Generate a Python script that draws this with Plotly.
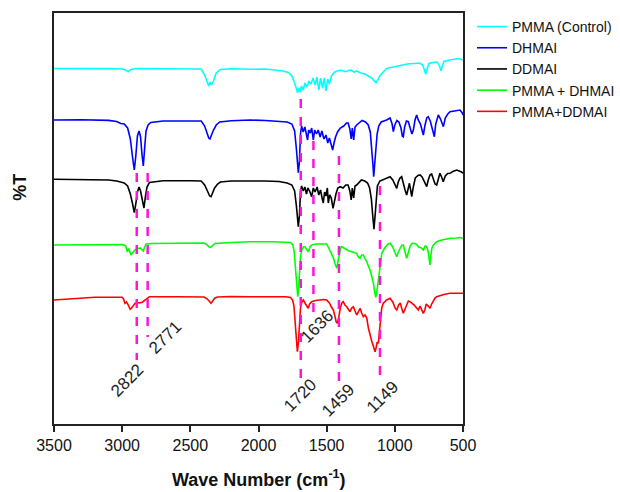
import plotly.graph_objects as go

# ---------------- data ----------------
series_names = ["PMMA (Control)", "DHMAI", "DDMAI", "PMMA + DHMAI", "PMMA+DDMAI"]
series_colors = ["#00FFFF", "#0000FF", "#000000", "#00FF00", "#FF0000"]

pmma_wn = [3500, 3300, 3100, 3000, 2975, 2955, 2935, 2900, 2700, 2500, 2420, 2395, 2375, 2365, 2355, 2345,
           2330, 2310, 2280, 2200, 2062, 1950, 1880, 1820, 1780, 1755, 1735, 1720, 1713, 1705, 1695, 1685,
           1672, 1660, 1645, 1630, 1615, 1600, 1585, 1572, 1557, 1545, 1530, 1518, 1505, 1492, 1480, 1465,
           1440, 1400, 1380, 1360, 1340, 1320, 1300, 1280, 1250, 1220, 1195, 1170, 1150, 1138, 1125, 1110,
           1085, 1060, 1030, 1000, 970, 940, 900, 860, 820, 795, 780, 773, 765, 750, 720, 690, 672, 661,
           652, 640, 600, 560, 530, 500]
pmma_t = [355.5, 355.8, 355.4, 355.0, 354.0, 352.3, 354.5, 355.5, 355.6, 355.2, 355.0, 349, 340, 338, 342, 339,
          343, 351, 354.5, 355.2, 354.7, 355, 354, 353, 351.5, 348, 341, 334, 331.3, 336, 332, 338,
          334, 341, 337, 343, 340, 346, 339, 347, 334, 346, 336, 346, 333, 345, 340, 348,
          352, 354, 353, 352.3, 353.5, 354, 352, 353, 351, 350, 348, 346, 343, 341.3, 344, 348,
          352, 355.5, 356.5, 357.5, 358.5, 359.5, 360.3, 360.5, 361, 359, 352, 349.7, 354, 360.5, 361.5, 362, 358, 353.3,
          358, 362.5, 364, 365, 365.5, 364]

dhmai_wn = [3500, 3300, 3100, 3040, 3010, 2985, 2960, 2940, 2925, 2911, 2900, 2888, 2876, 2865, 2855, 2845,
            2835, 2825, 2810, 2790, 2700, 2500, 2420, 2395, 2375, 2365, 2356, 2345, 2330, 2310, 2285, 2200,
            2062, 1950, 1850, 1790, 1755, 1735, 1722, 1715, 1708, 1700, 1692, 1684, 1672, 1660, 1648, 1640,
            1632, 1620, 1610, 1598, 1588, 1575, 1562, 1548, 1535, 1520, 1505, 1492, 1480, 1468, 1456, 1446,
            1435, 1420, 1400, 1375, 1355, 1343, 1330, 1320, 1312, 1302, 1292, 1280, 1260, 1240, 1215, 1195,
            1180, 1168, 1160, 1155, 1149, 1140, 1130, 1118, 1100, 1060, 1035, 1020, 1011, 1000, 985, 970,
            955, 945, 938, 928, 915, 901, 888, 875, 864, 852, 840, 828, 812, 800, 791, 780, 766, 755, 740,
            725, 716, 710, 700, 681, 665, 652, 644, 630, 612, 595, 570, 545, 522, 505, 500]
dhmai_t = [304, 304.2, 303.6, 302.5, 300.5, 300, 296, 285, 268, 254, 268, 288, 293, 287, 270, 258,
           276, 293, 299, 301.5, 303, 303.2, 303, 298, 290, 286, 285, 289, 294, 299, 302, 303.3,
           304, 303.5, 303, 302, 300, 293, 275, 260, 251.3, 262, 290, 298, 292, 297, 289, 284,
           294, 291, 296, 284, 294, 290, 294, 287, 293, 285, 289, 281, 286, 279, 274, 281,
           287, 292, 296, 298, 301, 301, 295, 285, 296, 284, 297, 299, 301, 303.5, 302, 299,
           292, 275, 258, 247.3, 256, 272, 290, 298, 302, 304, 306, 300, 292.3, 299, 303.5, 302,
           296, 288, 287.3, 297, 303, 302.3, 297, 290, 294, 304, 309, 304, 300, 292, 289, 298, 306, 307.3, 303,
           295, 289, 287.3, 300, 309, 305, 300, 297.3, 306, 310, 312.3, 312.8, 313.5, 314, 311, 309]

ddmai_wn = [3500, 3300, 3100, 3040, 3010, 2985, 2960, 2940, 2925, 2911, 2900, 2888, 2876, 2865, 2852, 2840,
            2830, 2818, 2800, 2700, 2500, 2420, 2395, 2370, 2358, 2348, 2338, 2322, 2300, 2280, 2200, 2062,
            1950, 1850, 1790, 1755, 1735, 1722, 1715, 1708, 1700, 1692, 1684, 1672, 1660, 1648, 1638, 1625,
            1610, 1598, 1585, 1570, 1558, 1545, 1532, 1525, 1515, 1505, 1495, 1488, 1478, 1466, 1453, 1443,
            1432, 1418, 1400, 1380, 1360, 1343, 1330, 1320, 1312, 1302, 1292, 1280, 1260, 1245, 1220, 1200,
            1185, 1172, 1162, 1153, 1145, 1137, 1128, 1110, 1080, 1050, 1035, 1015, 1000, 986, 975, 962,
            950, 938, 925, 913, 903, 893, 884, 876, 866, 850, 830, 815, 800, 785, 772, 766, 755, 742, 730,
            718, 705, 693, 682, 669, 657, 645, 630, 612, 595, 575, 546, 525, 510, 500]
ddmai_t = [244.7, 244.5, 244, 243, 241.5, 241, 238, 230, 221, 211.3, 220, 232, 237, 233, 224, 216,
           227, 237, 241.5, 243.3, 243.2, 243, 239, 231, 228, 227.3, 231, 236, 240, 242, 243, 243.3,
           243, 242.5, 241, 239, 233, 218, 205, 197.3, 208, 232, 238, 233, 237, 230, 236, 233,
           227.3, 236, 232, 237, 229, 234, 225, 221, 232, 228, 236, 221, 229, 226, 215.7, 224,
           230, 236, 237.3, 236, 239, 239, 233, 224, 236, 226, 238, 239, 242, 244, 243, 241,
           236, 225, 208, 194.7, 208, 225, 238, 243, 245, 246.5, 247.3, 244, 239, 235.7, 242, 246,
           247.3, 240, 234, 229, 236, 240.7, 234, 227.3, 236, 246, 248.5, 249, 247, 242, 238, 237.3, 244, 249, 250,
           246, 240, 239, 246, 250.7, 247, 242.3, 248, 250.5, 250.7, 252.5, 254, 253, 252, 250.7]

pmma_dhmai_wn = [3500, 3300, 3100, 3000, 2975, 2962, 2952, 2945, 2935, 2925, 2905, 2881, 2865, 2855, 2845,
                 2835, 2825, 2790, 2700, 2500, 2400, 2380, 2362, 2350, 2338, 2320, 2200, 2062, 1900, 1800,
                 1765, 1748, 1738, 1730, 1722, 1715, 1712, 1707, 1700, 1692, 1683, 1670, 1659, 1648, 1635,
                 1622, 1610, 1580, 1550, 1520, 1500, 1485, 1472, 1463, 1450, 1438, 1426, 1415, 1400, 1390,
                 1370, 1353, 1335, 1316, 1300, 1280, 1268, 1255, 1243, 1231, 1218, 1206, 1194, 1182, 1168,
                 1157, 1148, 1140, 1130, 1120, 1108, 1096, 1070, 1050, 1035, 1015, 998, 986, 975, 960, 948,
                 938, 925, 913, 902, 888, 875, 864, 845, 825, 805, 791, 778, 766, 755, 746, 742, 736, 728,
                 717, 705, 693, 670, 640, 595, 550, 520, 500]
pmma_dhmai_t = [179, 179.3, 179.5, 179.5, 178.3, 172.3, 175.5, 173, 169, 171, 174, 175.7, 176, 174.5, 173,
                177, 180, 180.5, 180.7, 181, 181, 179.5, 177, 176.7, 178.5, 180.5, 181.5, 182.3, 182.3, 182,
                181.5, 179, 172, 158, 140, 129, 127.3, 133, 150, 167, 174, 177.3, 177.3, 175, 172.3,
                177, 179, 180, 180, 180.5, 180, 176, 172, 170.7, 166, 160, 155.7, 164, 175, 177.3,
                175.5, 174, 173, 172.3, 171.5, 170.7, 167, 165.7, 169, 169, 165, 162.3, 158, 154, 147,
                140.7, 132, 126.7, 134, 144, 160, 170.7, 177, 180, 180.7, 177, 171, 167.3, 172, 177, 179,
                179, 172, 165.7, 171, 178, 180.5, 180.7, 180, 177, 176, 174, 178, 177.3, 172, 162, 159, 168, 176,
                179, 181, 182.3, 183.5, 184.5, 185.7, 186, 186.5, 185.7]

pmma_ddmai_wn = [3500, 3400, 3300, 3200, 3000, 2990, 2979, 2968, 2955, 2942, 2930, 2920, 2906, 2890, 2870,
                 2850, 2833, 2815, 2800, 2600, 2500, 2400, 2375, 2360, 2348, 2336, 2320, 2300, 2200, 2062,
                 1900, 1800, 1765, 1750, 1740, 1732, 1724, 1715, 1708, 1700, 1692, 1682, 1671, 1655, 1645,
                 1635, 1625, 1610, 1580, 1550, 1520, 1500, 1480, 1465, 1451, 1440, 1430, 1422, 1412, 1400,
                 1388, 1378, 1366, 1353, 1340, 1329, 1316, 1304, 1292, 1280, 1268, 1255, 1243, 1231, 1218,
                 1206, 1194, 1182, 1170, 1160, 1152, 1145, 1138, 1129, 1121, 1112, 1105, 1096, 1085, 1060,
                 1035, 1015, 998, 986, 972, 960, 948, 938, 925, 912, 901, 889, 875, 858, 840, 828, 815, 803,
                 791, 780, 770, 755, 742, 730, 717, 705, 693, 670, 640, 595, 560, 530, 500]
pmma_ddmai_t = [124, 125, 126, 126.7, 126.7, 125, 120.7, 122, 119, 114.7, 116, 118, 120.7, 121.5, 121,
                122, 124, 126.5, 127.3, 127.3, 127.3, 127, 125, 122, 120.7, 123, 126, 127, 127.5, 127.3,
                127.3, 127.3, 126.5, 124, 118, 105, 88, 72.3, 80, 100, 116, 122, 124, 120, 118,
                115.7, 120, 122.3, 123.5, 124, 124.5, 124, 121, 117, 114, 108, 102, 100.7, 106, 116,
                121, 122.3, 119, 117.3, 114, 112.3, 116, 117.3, 113, 109, 112, 115.7, 111, 107.3, 109,
                106, 96, 88, 83, 79, 75, 72.3, 76, 82, 80.7, 93, 108, 116, 120.7, 124,
                125.7, 122, 116, 114, 119, 121, 115, 110.7, 115, 120, 123, 122.3, 121, 119, 116, 114, 118, 115,
                110.7, 114, 120, 118, 115.7, 120, 124, 126, 127.3, 128.5, 129.5, 130.7, 131, 130.8, 130.7]

# marked peaks: label, marker wavenumber, dashed-line extent (T units), label anchor
peak_labels = ["2822", "2771", "1720", "1636", "1459", "1149"]
peak_wn = [2893, 2813, 1690, 1597, 1410, 1109]
peak_top = [251, 251, 325, 283, 268, 238]
peak_bottom = [64, 87, 44, 111, 34, 45]
label_wn = [2965, 2686, 1696, 1571, 1417, 1094]
label_t = [44, 87, 29, 98, 24, 27]

tick_vals = [3500, 3000, 2500, 2000, 1500, 1000, 500]

# ---------------- figure ----------------
wn_sets = [pmma_wn, dhmai_wn, ddmai_wn, pmma_dhmai_wn, pmma_ddmai_wn]
t_sets = [pmma_t, dhmai_t, ddmai_t, pmma_dhmai_t, pmma_ddmai_t]

fig = go.Figure()
for name, col, wn, t in zip(series_names, series_colors, wn_sets, t_sets):
    fig.add_trace(go.Scatter(x=wn, y=t, mode="lines", name=name,
                             line=dict(color=col, width=1.6)))

FONT = "Liberation Sans, Arial, sans-serif"
MAG = "#FF14DC"

shapes = []
for w, top, bot in zip(peak_wn, peak_top, peak_bottom):
    shapes.append(dict(type="line", xref="x", yref="y", x0=w, x1=w, y0=top, y1=bot,
                       line=dict(color=MAG, width=2.5, dash="dash")))

annotations = []
for lab, w, t in zip(peak_labels, label_wn, label_t):
    annotations.append(dict(x=w, y=t, xref="x", yref="y", text=lab, showarrow=False,
                            textangle=-45, xanchor="center", yanchor="middle",
                            font=dict(family=FONT, size=17, color="#222222")))

annotations.append(dict(x=-0.083, y=0.575, xref="paper", yref="paper", text="<b>%T</b>",
                        showarrow=False, textangle=-90, xanchor="center", yanchor="middle",
                        font=dict(family=FONT, size=18, color="#111111")))
annotations.append(dict(x=0.5, y=-0.133, xref="paper", yref="paper",
                        text="<b>Wave Number (cm<sup>-1</sup>)</b>",
                        showarrow=False, xanchor="center", yanchor="middle",
                        font=dict(family=FONT, size=18, color="#111111")))

fig.update_layout(
    width=620, height=492,
    margin=dict(l=54, r=157, t=13, b=68, autoexpand=False),
    paper_bgcolor="white", plot_bgcolor="white",
    showlegend=True,
    legend=dict(x=1.022, y=1.005, xanchor="left", yanchor="top",
                font=dict(family=FONT, size=14, color="#111111"),
                bgcolor="rgba(0,0,0,0)", borderwidth=0, itemwidth=30),
    shapes=shapes,
    annotations=annotations,
)
fig.update_xaxes(range=[3500, 500], tickvals=tick_vals, ticks="outside", ticklen=6,
                 tickwidth=1.5, tickcolor="#222222", showline=True, linecolor="#222222",
                 linewidth=1.5, mirror=True, showgrid=False, zeroline=False,
                 tickfont=dict(family=FONT, size=16, color="#111111"))
fig.update_yaxes(range=[0, 411], showticklabels=False, ticks="", showline=True,
                 linecolor="#222222", linewidth=1.5, mirror=True, showgrid=False, zeroline=False)

fig.write_html("out.html")
